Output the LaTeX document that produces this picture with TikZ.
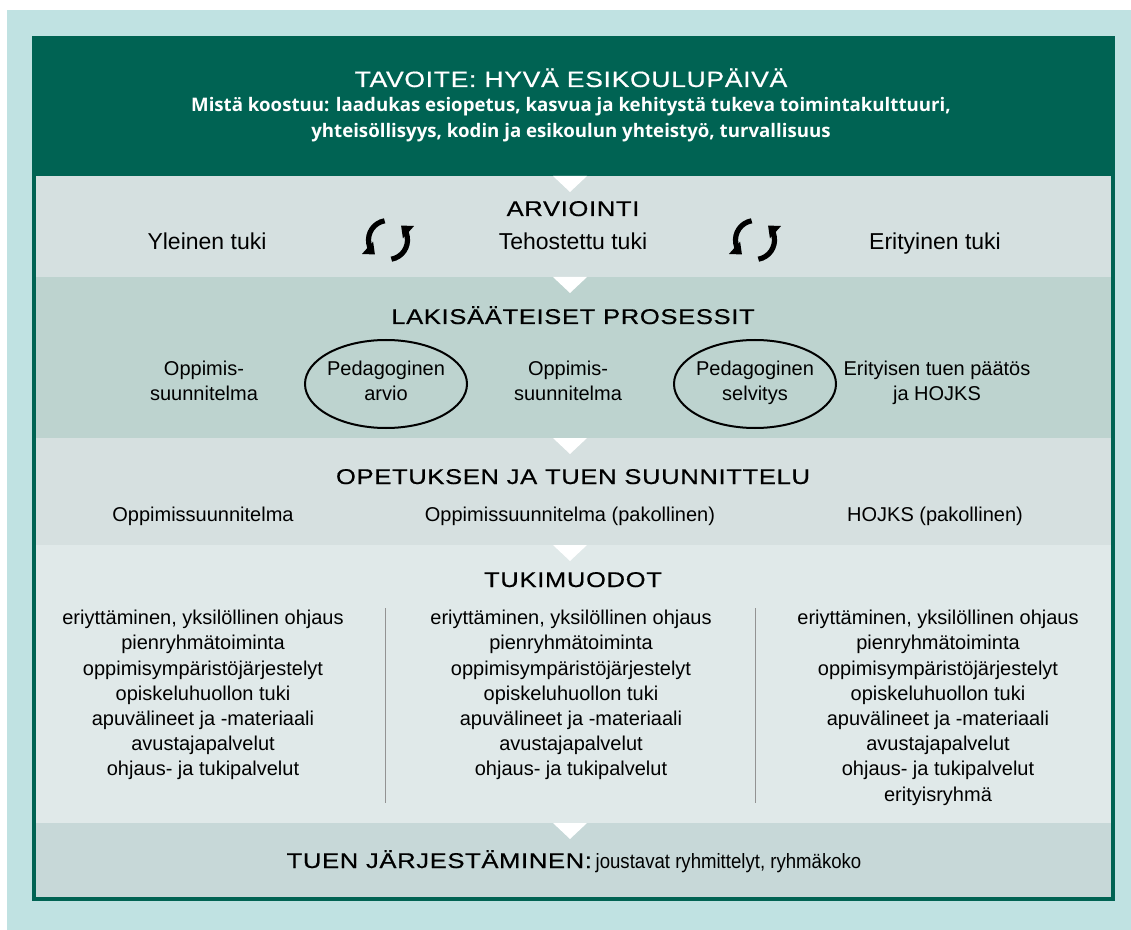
\documentclass[tikz,border=0pt]{standalone}
\usepackage{fontspec}
\setmainfont{Liberation Sans}
\newfontfamily\otsikkofont[FakeStretch=1.2,LetterSpace=3,FakeBold=0.5]{Liberation Sans}
\newfontfamily\alaotsikkofont{Open Sans}
\newfontfamily\kapeafont[FakeStretch=0.9]{Liberation Sans}
\usetikzlibrary{shapes.geometric,arrows.meta}

\definecolor{tausta}{RGB}{192,226,226}
\definecolor{tummavihrea}{RGB}{0,99,83}
\definecolor{arvikaista}{RGB}{213,224,224}
\definecolor{lakikaista}{RGB}{189,211,207}
\definecolor{opetkaista}{RGB}{214,224,224}
\definecolor{tukikaista}{RGB}{224,233,233}
\definecolor{jarjkaista}{RGB}{199,216,216}

\begin{document}
\begin{tikzpicture}[x=0.75pt,y=-0.75pt,
    every node/.style={inner sep=0pt, text=black},
    otsikko/.style={font=\otsikkofont\fontsize{16}{19}\selectfont, anchor=base},
    rivi/.style={font=\fontsize{15}{18.9}\selectfont, anchor=base},
    isorivi/.style={font=\fontsize{17.25}{20}\selectfont, anchor=base},
    monirivi/.style={font=\fontsize{15}{18.9}\selectfont, align=center, anchor=north},
    soikio/.style={ellipse, draw, line width=1.5pt, minimum width=121.5pt, minimum height=66pt},
    erotin/.style={draw=gray!85, line width=0.75pt},
    kiertoviiva/.style={line width=3.9pt, -{Triangle[length=7.5pt,width=12pt]}},
    kierto/.pic={
      \draw[kiertoviiva] (-100:19.5) arc[start angle=-100, end angle=-228, radius=19.5];
      \draw[kiertoviiva] (-280:19.5) arc[start angle=-280, end angle=-408, radius=19.5];
    },
  ]
  \useasboundingbox (0,0) rectangle (1131,930);
  % tausta, kehys ja kaistat
  \fill[tausta] (7,10) rectangle (1131,930);
  \fill[tummavihrea] (32,36) rectangle (1115,901);
  \fill[arvikaista] (36,176) rectangle (1111,277);
  \fill[lakikaista] (36,277) rectangle (1111,438);
  \fill[opetkaista] (36,438) rectangle (1111,545);
  \fill[tukikaista] (36,545) rectangle (1111,823);
  \fill[jarjkaista] (36,823) rectangle (1111,897);
  \foreach \y in {176,277,438,545,823}
    \fill[white] (553,\y) -- (587,\y) -- (570,\y+16) -- cycle;

  % tavoite
  \node[anchor=base, text=white, font=\otsikkofont\fontsize{16.6}{20}\selectfont] (tavoite) at (571,87) {TAVOITE: HYVÄ ESIKOULUPÄIVÄ};
  \node[anchor=north, align=center, text=white, font=\alaotsikkofont\bfseries\fontsize{14}{19.5}\selectfont] (koostuu) at (571,97)
    {Mistä koostuu: laadukas esiopetus, kasvua ja kehitystä tukeva toimintakulttuuri,\\ yhteisöllisyys, kodin ja esikoulun yhteistyö, turvallisuus};

  % arviointi
  \node[otsikko] (arviointi) at (573,216) {ARVIOINTI};
  \node[isorivi] (yleinen) at (207,250) {Yleinen tuki};
  \node[isorivi] (tehostettu) at (573,250) {Tehostettu tuki};
  \node[isorivi] (erityinen) at (935,250) {Erityinen tuki};
  \pic at (388,240) {kierto};
  \pic at (755,240) {kierto};

  % lakisaateiset prosessit
  \node[otsikko] (laki) at (573,324) {LAKISÄÄTEISET PROSESSIT};
  \node[soikio] (arvio) at (386,384) {};
  \node[soikio] (selvitys) at (755,384) {};
  \node[monirivi] (oppimis1) at (204,360.5) {Oppimis-\\suunnitelma};
  \node[monirivi] (pedarvio) at (386,360.5) {Pedagoginen\\arvio};
  \node[monirivi] (oppimis2) at (568,360.5) {Oppimis-\\suunnitelma};
  \node[monirivi] (pedselv) at (755,360.5) {Pedagoginen\\selvitys};
  \node[monirivi] (paatos) at (937,360.5) {Erityisen tuen päätös\\ja HOJKS};

  % suunnittelu
  \node[otsikko] (suunnittelu) at (573,484) {OPETUKSEN JA TUEN SUUNNITTELU};
  \node[rivi] (suunL) at (203,521) {Oppimissuunnitelma};
  \node[rivi] (suunM) at (570,521) {Oppimissuunnitelma (pakollinen)};
  \node[rivi] (suunR) at (935,521) {HOJKS (pakollinen)};

  % tukimuodot
  \node[otsikko] (tukimuodot) at (573,587) {TUKIMUODOT};
  \node[monirivi] (listaL) at (203,610) {eriyttäminen, yksilöllinen ohjaus\\pienryhmätoiminta\\oppimisympäristöjärjestelyt\\opiskeluhuollon tuki\\apuvälineet ja -materiaali\\avustajapalvelut\\ohjaus- ja tukipalvelut};
  \node[monirivi] (listaM) at (571,610) {eriyttäminen, yksilöllinen ohjaus\\pienryhmätoiminta\\oppimisympäristöjärjestelyt\\opiskeluhuollon tuki\\apuvälineet ja -materiaali\\avustajapalvelut\\ohjaus- ja tukipalvelut};
  \node[monirivi] (listaR) at (938,610) {eriyttäminen, yksilöllinen ohjaus\\pienryhmätoiminta\\oppimisympäristöjärjestelyt\\opiskeluhuollon tuki\\apuvälineet ja -materiaali\\avustajapalvelut\\ohjaus- ja tukipalvelut\\erityisryhmä};
  \draw[erotin] (385,608) -- (385,803);
  \draw[erotin] (755,608) -- (755,803);

  % tuen jarjestaminen
  \node[anchor=base] (jarj) at (574,868) {{\otsikkofont\fontsize{16}{19}\selectfont TUEN JÄRJESTÄMINEN:} {\kapeafont\fontsize{15.5}{19}\selectfont joustavat ryhmittelyt, ryhmäkoko}};
\end{tikzpicture}
\end{document}
